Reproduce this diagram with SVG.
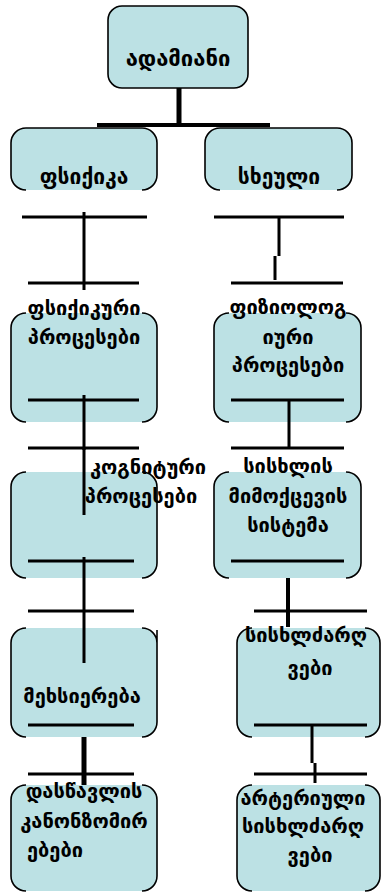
<svg xmlns="http://www.w3.org/2000/svg" width="381" height="892" viewBox="0 0 381 892">
<style>
.fill{fill:#bce1e4;stroke:none}
.edge{fill:none;stroke:#000;stroke-width:1.6}
.t{font-family:"DejaVu Sans",sans-serif;font-weight:bold;font-size:20px;fill:#000;text-anchor:middle}
.c{stroke:#000;stroke-width:3;fill:none}
.k{stroke:#000;stroke-width:5;fill:none}
</style>
<rect width="381" height="892" fill="#fff"/>
<g id="n-adamiani">
<rect x="108" y="6" width="140" height="82" rx="14" fill="#bce1e4" stroke="#000" stroke-width="1.6"/>
<text class="t" x="178" y="66" style="font-size:22px">ადამიანი</text>
</g>
<g id="n-psiqika">
<rect class="fill" x="11" y="128" width="146" height="62" rx="15"/>
<path class="edge" d="M26,128 H142 A15,15 0 0 1 157,143 V175 A15,15 0 0 1 142,190 M26,128 A15,15 0 0 0 11,143 V175 A15,15 0 0 0 26,190"/>
<text class="t" x="84" y="184" style="font-size:21px">ფსიქიკა</text>
</g>
<g id="n-sxeuli">
<rect class="fill" x="205" y="128" width="147" height="62" rx="15"/>
<path class="edge" d="M220,128 H337 A15,15 0 0 1 352,143 V175 A15,15 0 0 1 337,190 M220,128 A15,15 0 0 0 205,143 V175 A15,15 0 0 0 220,190"/>
<text class="t" x="279" y="184" style="font-size:21px">სხეული</text>
</g>
<g id="n-psiqikuri">
<rect class="fill" x="11" y="313" width="146" height="109" rx="15"/>
<path class="edge" d="M26,313 A15,15 0 0 0 11,328 V407 A15,15 0 0 0 26,422 M142,313 A15,15 0 0 1 157,328 V407 A15,15 0 0 1 142,422"/>
<text class="t" x="84" y="315">ფსიქიკური</text>
<text class="t" x="84" y="344">პროცესები</text>
</g>
<g id="n-piziologiuri">
<rect class="fill" x="214" y="313" width="147" height="109" rx="15"/>
<path class="edge" d="M229,313 A15,15 0 0 0 214,328 V407 A15,15 0 0 0 229,422 M346,313 A15,15 0 0 1 361,328 V407 A15,15 0 0 1 346,422"/>
<text class="t" x="288" y="314">ფიზიოლოგ</text>
<text class="t" x="288" y="344">იური</text>
<text class="t" x="288" y="372">პროცესები</text>
</g>
<g id="n-kognituri">
<rect class="fill" x="11" y="472" width="146" height="106" rx="15"/>
<path class="edge" d="M26,472 A15,15 0 0 0 11,487 V563 A15,15 0 0 0 26,578 M142,472 A15,15 0 0 1 157,487 V563 A15,15 0 0 1 142,578"/>
<text class="t" x="148" y="474">კოგნიტური</text>
<text class="t" x="141" y="503">პროცესები</text>
</g>
<g id="n-sisxlis">
<rect class="fill" x="214" y="472" width="147" height="106" rx="15"/>
<path class="edge" d="M229,472 A15,15 0 0 0 214,487 V563 A15,15 0 0 0 229,578 M346,472 A15,15 0 0 1 361,487 V563 A15,15 0 0 1 346,578"/>
<text class="t" x="288" y="473">სისხლის</text>
<text class="t" x="288" y="503">მიმოქცევის</text>
<text class="t" x="288" y="532">სისტემა</text>
</g>
<g id="n-mexsiereba">
<rect class="fill" x="11" y="628" width="146" height="109" rx="15"/>
<path class="edge" d="M26,628 A15,15 0 0 0 11,643 V722 A15,15 0 0 0 26,737 M142,628 A15,15 0 0 1 157,643 V722 A15,15 0 0 1 142,737 M157,630 V718"/>
<text class="t" x="82" y="703">მეხსიერება</text>
</g>
<g id="n-sisxldzarghvebi">
<rect class="fill" x="237" y="628" width="143" height="109" rx="15"/>
<path class="edge" d="M252,628 A15,15 0 0 0 237,643 V722 A15,15 0 0 0 252,737 M365,628 A15,15 0 0 1 380,643 V722 A15,15 0 0 1 365,737"/>
<text class="t" x="306" y="642">სისხლძარღ</text>
<text class="t" x="310" y="675">ვები</text>
</g>
<g id="n-dastsavlis">
<rect class="fill" x="11" y="785" width="146" height="106" rx="15"/>
<path class="edge" d="M26,785 A15,15 0 0 0 11,800 V876 A15,15 0 0 0 26,891 M142,785 A15,15 0 0 1 157,800 V876 A15,15 0 0 1 142,891"/>
<text class="t" x="84" y="798">დასწავლის</text>
<text class="t" x="84" y="828">კანონზომირ</text>
<text class="t" x="27" y="857" style="text-anchor:start">ებები</text>
</g>
<g id="n-arteriuli">
<rect class="fill" x="237" y="785" width="143" height="106" rx="15"/>
<path class="edge" d="M252,785 A15,15 0 0 0 237,800 V876 A15,15 0 0 0 252,891 M365,785 A15,15 0 0 1 380,800 V876 A15,15 0 0 1 365,891"/>
<text class="t" x="303" y="805">არტერიული</text>
<text class="t" x="303" y="833">სისხლძარღ</text>
<text class="t" x="310" y="862">ვები</text>
</g>
<g id="connectors">
<path class="k" d="M179,88 V125"/>
<path class="c" style="stroke-width:4" d="M97,125 H270"/>
<path class="c" d="M22,217 H147 M84,212 V290 M28,283 H139"/>
<path class="c" d="M214,217 H344 M279,217 V256 M275,256 V280 M231,283 H343"/>
<path class="c" d="M28,400 H139 M84,395 V450 M28,448 H139"/>
<path class="c" d="M231,400 H344 M289,400 V448 M231,448 H344"/>
<path class="c" d="M84,449 V515 M28,561 H134 M84,557 V663"/>
<path class="c" d="M231,561 H344"/>
<path class="k" style="stroke-width:4" d="M288,578 V627"/>
<path class="c" d="M28,611 H134 M254,611 H367"/>
<path class="c" d="M28,725 H134 M254,725 H367 M312,725 V763 M315,763 V783"/>
<path class="k" d="M84,737 V785"/>
<path class="c" d="M28,774 H134 M254,774 H367"/>
</g>
</svg>
